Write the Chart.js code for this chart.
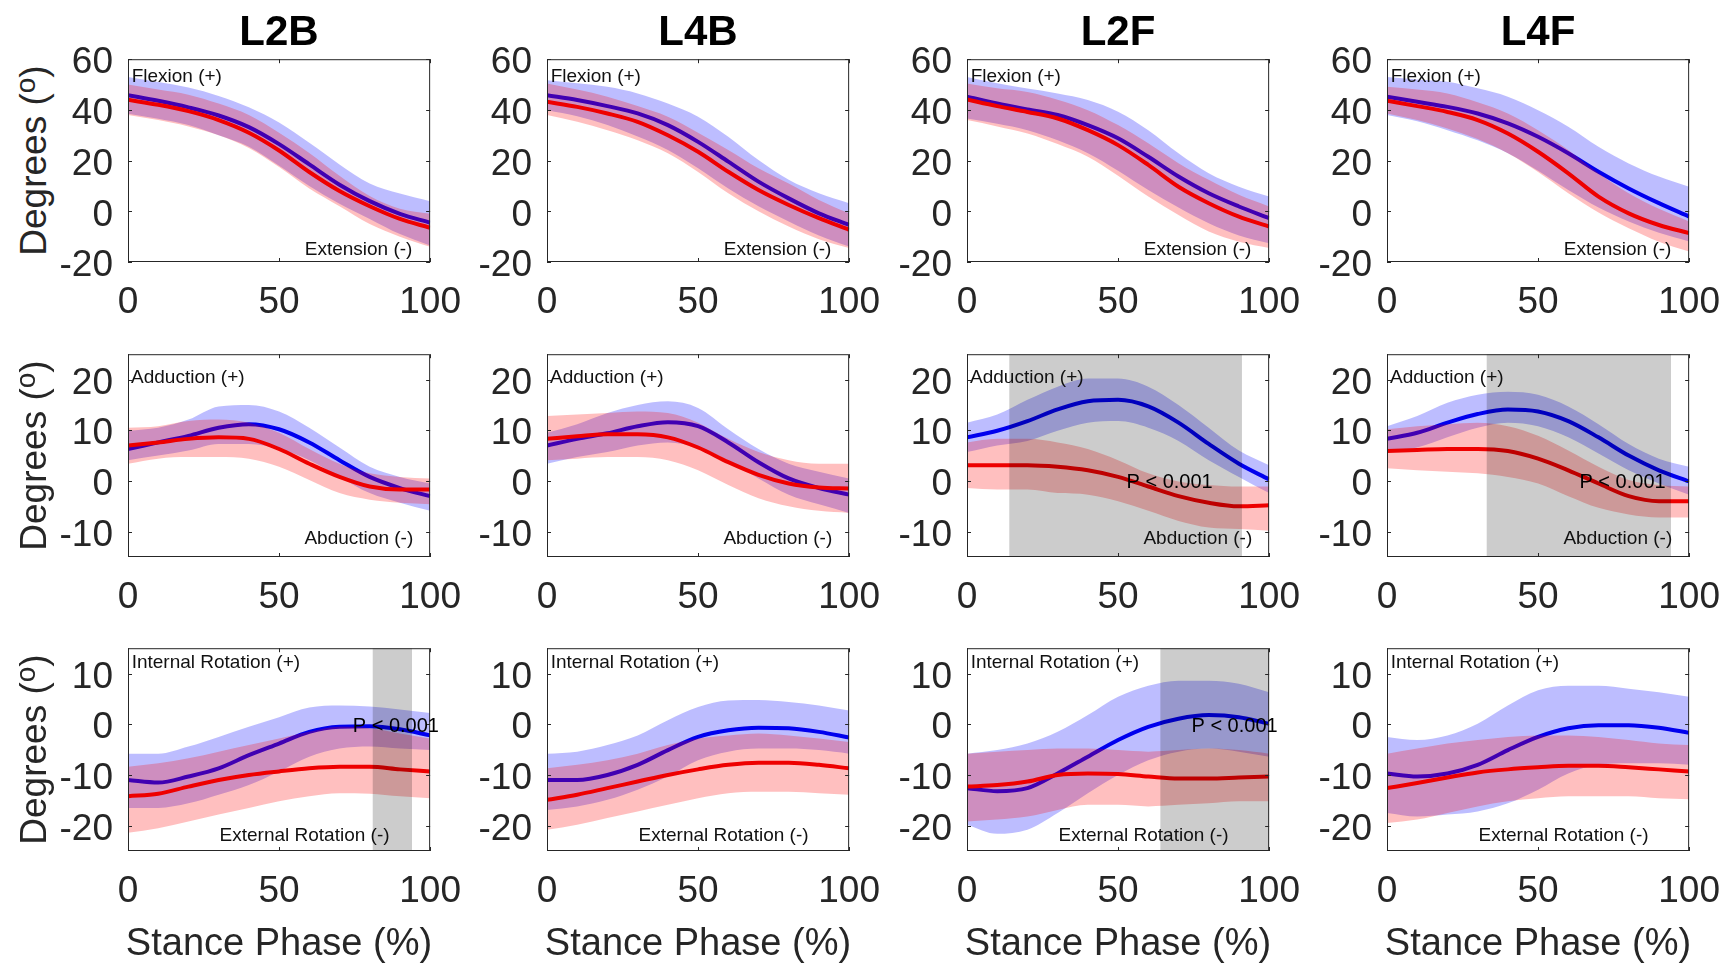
<!DOCTYPE html>
<html><head><meta charset="utf-8">
<script src="https://cdn.jsdelivr.net/npm/chart.js@4.4.1/dist/chart.umd.min.js"></script>
<style>
html,body{margin:0;padding:0;background:#fff;}
#wrap{position:relative;width:1731px;height:964px;overflow:hidden;background:#fff;font-family:"Liberation Sans",Arial,sans-serif;}
#wrap canvas{position:absolute;}
.title{position:absolute;width:200px;height:42px;line-height:42px;font-size:42px;font-weight:bold;color:#000;text-align:center;}
.ylab{position:absolute;width:300px;height:37px;line-height:37px;font-size:37px;color:#262626;text-align:center;transform:rotate(-90deg);white-space:nowrap;}
.ylab sup{font-size:28px;vertical-align:0;position:relative;top:-11px;}
.xlab{position:absolute;width:420px;height:38px;line-height:38px;font-size:38px;color:#262626;text-align:center;white-space:nowrap;}
</style></head>
<body><div id="wrap"></div>
<script>
// ---------- data ----------
const X = [0,10,20,30,40,50,60,70,80,90,100];
const COLUMNS = ['L2B','L4B','L2F','L4F'];
const X_TICKS = [0,50,100];
const Y_TICKS_FLEX = [-20,0,20,40,60];
const Y_TICKS_ABD = [-10,0,10,20];
const Y_TICKS_ROT = [-20,-10,0,10];
const X_LABEL = 'Stance Phase (%)';

// Row 1: flexion / extension   (bm/bu/bl = blue mean/upper/lower, rm/ru/rl = red)
const L2B_flex_bm = [45.8,43.6,41,37.8,33.2,26.5,18.5,10.5,4,-1,-4.5];
const L2B_flex_bu = [53,51,48.8,45.5,41,35,27,18.5,11,7,4];
const L2B_flex_bl = [38.5,36.5,34,30,25.5,18,10,3,-3,-9,-13.5];
const L2B_flex_rm = [44,42,39.5,36,31,24,15.5,8,2,-3,-6.5];
const L2B_flex_ru = [50,48,46,42.5,38,31,23,14,6,1,-1];
const L2B_flex_rl = [38,36,33.5,30,25,17.5,9,2,-5,-10,-14];

const L4B_flex_bm = [45.8,43.9,41.5,38.6,34,27.4,19.6,11.7,5.1,-0.8,-5.4];
const L4B_flex_bu = [51.7,50.5,49.1,46.5,42.5,37.3,29.4,20.2,12.4,7.1,3.2];
const L4B_flex_bl = [39.9,37.5,34,29.5,24.2,17,9,2,-4,-9.5,-13.9];
const L4B_flex_rm = [43.2,41.2,38.6,35.3,30,23.5,15.6,8.4,2.5,-2.7,-7.3];
const L4B_flex_ru = [50.4,48,45.2,41.5,37.3,31,24.2,17,11,4.5,-0.8];
const L4B_flex_rl = [38,35.3,32,28,22.9,15.5,7.1,0,-6,-11,-14.5];

const L2F_flex_bm = [45.2,42.5,40.2,38,34,28.8,21.5,13.7,7.1,1.9,-2.7];
const L2F_flex_bu = [53,50.5,48.4,46.5,43.9,39.3,32,22.9,15,9.7,5.8];
const L2F_flex_bl = [36.6,34.5,32,28,22.9,16,8.4,1.5,-4.7,-9.5,-12.6];
const L2F_flex_rm = [44.1,41.5,39.2,36.6,32,26.1,18.3,9.7,3.2,-2.1,-6];
const L2F_flex_ru = [50.4,48.5,47.1,44,39.9,34,26.8,19,12.4,6.5,1.9];
const L2F_flex_rl = [36,33.5,30.7,26.5,21.5,14,5.8,-1.5,-8,-12,-14.5];

const L4F_flex_bm = [45.2,43.2,41.2,38.6,34.7,29.4,22.9,15.6,9,3.2,-2.1];
const L4F_flex_bu = [53,52,51.1,48.5,45.2,39.9,33.4,25.5,18.9,13.7,9.7];
const L4F_flex_bl = [38,35.5,32,28,22.9,16,8.4,1.5,-4,-8.5,-11.9];
const L4F_flex_rm = [43.6,41.5,39.2,36,30.7,23.5,15,5.8,-0.8,-5.4,-8.6];
const L4F_flex_ru = [49.1,48,46.5,43,38.6,32,24.2,15,7.1,1,-4];
const L4F_flex_rl = [38.6,36,32.7,28.5,22.9,15.5,7.1,-0.5,-6.7,-12,-15.9];

// Row 2: adduction / abduction
const L2B_abd_bm = [6.3,7.6,8.9,10.5,11.2,10.2,7.6,4.1,0.8,-1.4,-3];
const L2B_abd_bu = [9.9,10.5,12.1,14.7,15,13.7,10.5,6.6,2.8,0.8,-0.5];
const L2B_abd_bl = [4.1,5,6,7.3,7.3,6.3,4.1,0.8,-2.4,-4.3,-5.9];
const L2B_abd_rm = [7,7.6,8.3,8.6,8.3,6.3,3.4,0.8,-1.1,-1.7,-1.7];
const L2B_abd_ru = [10.5,10.8,11.8,12.1,11.5,9.5,6.3,3.4,1.5,0.8,0.5];
const L2B_abd_rl = [3.4,4.4,4.7,4.7,4.4,2.8,0.2,-2.4,-3.7,-4.3,-4.6];

const L4B_abd_bm = [7,8.3,9.4,10.8,11.6,10.8,7.6,3.7,0.5,-1.4,-2.7];
const L4B_abd_bu = [9.5,11.2,13.4,15,15.7,14.4,10.2,6.3,3.4,1.8,0.5];
const L4B_abd_bl = [3.4,4.7,5.7,7,7.6,6.6,4.1,0.5,-2.7,-4.6,-6.3];
const L4B_abd_rm = [8.3,8.8,9.2,9.2,8.6,6.6,3.7,1.2,-0.5,-1.3,-1.5];
const L4B_abd_ru = [12.8,13.1,13.4,13.7,13.4,11.5,8.3,5.7,4.1,3.4,3.4];
const L4B_abd_rl = [4.1,4.4,4.7,4.7,4.1,2.1,-0.8,-3.4,-5,-5.9,-6.3];

const L2F_abd_bm = [8.6,9.9,11.8,14.1,15.7,16,14.7,11.5,7.3,3.4,0.3];
const L2F_abd_bu = [11.5,13.1,16,18.6,20.2,20.2,18.6,15,10.5,6,3.1];
const L2F_abd_bl = [5.7,7,7.9,9.9,11.5,11.8,10.5,7.9,4.1,0.8,-2.4];
const L2F_abd_rm = [3.1,3.1,3.1,2.8,2.1,0.8,-1.1,-3,-4.3,-5,-4.8];
const L2F_abd_ru = [7.6,8.3,8.3,7.6,6.3,4.1,1.5,-0.1,-0.8,-1.1,-1.1];
const L2F_abd_rl = [-1.4,-1.7,-1.7,-2.4,-2.7,-4,-5.9,-7.9,-9.2,-9.5,-9.8];
const L2F_abd_sig = [14,91];
const L2F_abd_p = [52.8,-0.3];

const L4F_abd_bm = [8.3,9.5,11.5,13.2,14.1,13.7,11.8,8.6,5,2.1,-0.1];
const L4F_abd_bu = [10.8,12.8,15.4,17,17.6,17,14.7,11.2,7.3,4.4,2.8];
const L4F_abd_bl = [5.7,6.6,8.6,10.5,11.5,10.8,8.6,5.4,2.1,-0.5,-2.7];
const L4F_abd_rm = [5.9,6.1,6.3,6.3,5.9,4.4,2.1,-0.5,-3,-4,-4];
const L4F_abd_ru = [10.2,10.8,11.2,11.5,10.8,8.9,6,2.8,0.2,-0.8,-1.1];
const L4F_abd_rl = [2.5,2.1,1.8,1.5,0.8,-0.5,-3,-5.3,-6.6,-7.2,-7.2];
const L4F_abd_sig = [33,94];
const L4F_abd_p = [63.7,-0.3];

// Row 3: internal / external rotation
const L2B_rot_bm = [-11,-11.5,-10.3,-8.7,-6.1,-3.8,-1.5,-0.5,-0.4,-1,-2.2];
const L2B_rot_bu = [-5.8,-5.8,-4.4,-2.5,-0.5,1.4,3.3,3.7,3.5,2.9,2.2];
const L2B_rot_bl = [-16.5,-16.5,-15.6,-13.9,-12,-9.3,-6.4,-4.8,-4.4,-4.8,-5.1];
const L2B_rot_rm = [-14.2,-13.7,-12.3,-11,-10,-9.3,-8.7,-8.4,-8.4,-8.9,-9.3];
const L2B_rot_ru = [-8.4,-7.7,-6.7,-5.4,-4.1,-2.8,-1.5,-0.5,-0.8,-1.8,-2.8];
const L2B_rot_rl = [-21.4,-20.5,-19.2,-17.8,-16.5,-15.2,-14.2,-13.6,-13.7,-14.2,-14.6];
const L2B_rot_sig = [81,94];
const L2B_rot_p = [74.4,-0.5];

const L4B_rot_bm = [-11,-11,-10,-8,-5.1,-2.5,-1.2,-0.7,-0.8,-1.5,-2.6];
const L4B_rot_bu = [-5.8,-5.4,-4.1,-2.2,0.8,3.4,4.7,4.8,4.4,3.7,2.7];
const L4B_rot_bl = [-16.9,-16.2,-14.9,-12.9,-10.3,-7.1,-5.4,-4.8,-4.8,-5.1,-5.8];
const L4B_rot_rm = [-14.9,-13.9,-12.6,-11.3,-10,-8.9,-8,-7.6,-7.6,-8,-8.7];
const L4B_rot_ru = [-8.7,-8,-7.1,-5.8,-4.1,-2.8,-2.2,-1.8,-2.2,-2.8,-3.5];
const L4B_rot_rl = [-20.8,-19.8,-18.5,-17.2,-15.9,-14.6,-13.6,-13.3,-13.3,-13.6,-13.9];

const L2F_rot_bm = [-12.6,-13.2,-12.6,-9.7,-6.4,-3.1,-0.5,1.1,1.8,1.4,0.1];
const L2F_rot_bu = [-5.8,-5.1,-3.8,-1.5,1.8,5.4,7.6,8.6,8.6,8,6.3];
const L2F_rot_bl = [-19.8,-21.6,-20.8,-17.5,-13.6,-10,-7.1,-5.4,-4.8,-5.4,-6.4];
const L2F_rot_rm = [-12.3,-12,-11.3,-10,-9.7,-9.8,-10.3,-10.7,-10.7,-10.5,-10.3];
const L2F_rot_ru = [-5.8,-5.4,-5.1,-4.8,-4.8,-5.1,-5.4,-5.1,-4.8,-5.1,-5.8];
const L2F_rot_rl = [-19.2,-18.8,-18.2,-16.9,-15.9,-15.9,-16.2,-15.9,-15.6,-15.2,-15.2];
const L2F_rot_sig = [64,100];
const L2F_rot_p = [74.3,-0.5];

const L4F_rot_bm = [-9.7,-10.3,-9.7,-8,-5.1,-2.5,-0.8,-0.2,-0.2,-0.7,-1.7];
const L4F_rot_bu = [-2.5,-3.1,-2.2,0.1,3.7,6.7,7.6,7.6,7,6.3,5.4];
const L4F_rot_bl = [-17.5,-18.2,-17.8,-17.2,-15.6,-12.9,-9.7,-8,-7.7,-7.7,-8];
const L4F_rot_rm = [-12.6,-11.6,-10.5,-9.5,-8.9,-8.5,-8.2,-8.2,-8.5,-8.9,-9.3];
const L4F_rot_ru = [-5.8,-4.8,-3.8,-3.1,-2.5,-2.2,-2.2,-2.5,-3.1,-3.8,-4.1];
const L4F_rot_rl = [-19.5,-18.8,-17.5,-16.2,-15.2,-14.6,-14.2,-14.2,-14.2,-14.6,-14.8];

// ---------- layout ----------
const FONT = '"Liberation Sans", Arial, sans-serif';
const PLOT_LEFT = [128,547,967,1387];
const PLOT_TOP = [59,354,648];
const PW = 302, PH = 203;
const PL = 74, PB = 66;

const ROWS = [
  {min:-20,max:60,ticks:Y_TICKS_FLEX,top:'Flexion (+)',topX:1.2,topY:53,bot:'Extension (-)',botX:58.5,botY:-15.2},
  {min:-15,max:25,ticks:Y_TICKS_ABD,top:'Adduction (+)',topX:1.0,topY:20.4,bot:'Abduction (-)',botX:58.4,botY:-11.35},
  {min:-25,max:15,ticks:Y_TICKS_ROT,top:'Internal Rotation (+)',topX:1.2,topY:12.2,bot:'External Rotation (-)',botX:30.3,botY:-21.9}
];

const PANELS = [
  [
    {bm:L2B_flex_bm,bu:L2B_flex_bu,bl:L2B_flex_bl,rm:L2B_flex_rm,ru:L2B_flex_ru,rl:L2B_flex_rl},
    {bm:L4B_flex_bm,bu:L4B_flex_bu,bl:L4B_flex_bl,rm:L4B_flex_rm,ru:L4B_flex_ru,rl:L4B_flex_rl},
    {bm:L2F_flex_bm,bu:L2F_flex_bu,bl:L2F_flex_bl,rm:L2F_flex_rm,ru:L2F_flex_ru,rl:L2F_flex_rl},
    {bm:L4F_flex_bm,bu:L4F_flex_bu,bl:L4F_flex_bl,rm:L4F_flex_rm,ru:L4F_flex_ru,rl:L4F_flex_rl}
  ],
  [
    {bm:L2B_abd_bm,bu:L2B_abd_bu,bl:L2B_abd_bl,rm:L2B_abd_rm,ru:L2B_abd_ru,rl:L2B_abd_rl},
    {bm:L4B_abd_bm,bu:L4B_abd_bu,bl:L4B_abd_bl,rm:L4B_abd_rm,ru:L4B_abd_ru,rl:L4B_abd_rl},
    {bm:L2F_abd_bm,bu:L2F_abd_bu,bl:L2F_abd_bl,rm:L2F_abd_rm,ru:L2F_abd_ru,rl:L2F_abd_rl,sig:L2F_abd_sig,p:L2F_abd_p},
    {bm:L4F_abd_bm,bu:L4F_abd_bu,bl:L4F_abd_bl,rm:L4F_abd_rm,ru:L4F_abd_ru,rl:L4F_abd_rl,sig:L4F_abd_sig,p:L4F_abd_p}
  ],
  [
    {bm:L2B_rot_bm,bu:L2B_rot_bu,bl:L2B_rot_bl,rm:L2B_rot_rm,ru:L2B_rot_ru,rl:L2B_rot_rl,sig:L2B_rot_sig,p:L2B_rot_p},
    {bm:L4B_rot_bm,bu:L4B_rot_bu,bl:L4B_rot_bl,rm:L4B_rot_rm,ru:L4B_rot_ru,rl:L4B_rot_rl},
    {bm:L2F_rot_bm,bu:L2F_rot_bu,bl:L2F_rot_bl,rm:L2F_rot_rm,ru:L2F_rot_ru,rl:L2F_rot_rl,sig:L2F_rot_sig,p:L2F_rot_p},
    {bm:L4F_rot_bm,bu:L4F_rot_bu,bl:L4F_rot_bl,rm:L4F_rot_rm,ru:L4F_rot_ru,rl:L4F_rot_rl}
  ]
];

const BLUE = 'rgb(0,0,238)', RED = 'rgb(238,0,0)';
const BLUE_BAND = 'rgba(0,0,255,0.26)', RED_BAND = 'rgba(255,0,0,0.25)';

const pts = arr => X.map((x,i)=>({x:x,y:arr[i]}));

const decor = {
  id:'decor',
  afterDatasetsDraw(chart, args, o){
    const ctx = chart.ctx, a = chart.chartArea, xs = chart.scales.x, ys = chart.scales.y;
    ctx.save();
    if (o.sig){
      const x0 = xs.getPixelForValue(o.sig[0]), x1 = xs.getPixelForValue(o.sig[1]);
      ctx.fillStyle = 'rgba(0,0,0,0.2)';
      ctx.fillRect(x0, a.top, x1-x0, a.bottom-a.top);
    }
    ctx.strokeStyle = '#262626'; ctx.lineWidth = 1;
    ctx.strokeRect(a.left+0.5, a.top+0.5, a.right-a.left-1, a.bottom-a.top-1);
    const tl = 4;
    ctx.beginPath();
    xs.ticks.forEach(t=>{ const px = Math.round(xs.getPixelForValue(t.value))+0.5;
      ctx.moveTo(px,a.bottom); ctx.lineTo(px,a.bottom-tl); ctx.moveTo(px,a.top); ctx.lineTo(px,a.top+tl); });
    ys.ticks.forEach(t=>{ const py = Math.round(ys.getPixelForValue(t.value))+0.5;
      ctx.moveTo(a.left,py); ctx.lineTo(a.left+tl,py); ctx.moveTo(a.right,py); ctx.lineTo(a.right-tl,py); });
    ctx.stroke();
    ctx.fillStyle = '#111'; ctx.textBaseline = 'middle'; ctx.textAlign = 'left';
    ctx.font = '19px ' + FONT;
    ctx.fillText(o.top, xs.getPixelForValue(o.topX), ys.getPixelForValue(o.topY));
    ctx.fillText(o.bot, xs.getPixelForValue(o.botX), ys.getPixelForValue(o.botY));
    if (o.p){
      ctx.font = '20px ' + FONT; ctx.fillStyle = '#000';
      ctx.fillText('P < 0.001', xs.getPixelForValue(o.p[0]), ys.getPixelForValue(o.p[1]));
    }
    ctx.restore();
  }
};

function buildConfig(R, P){
  const line = {pointRadius:0,borderWidth:0,borderColor:'transparent',cubicInterpolationMode:'monotone'};
  return {
    type:'line',
    data:{datasets:[
      Object.assign({}, line, {data:pts(P.bu),fill:'+1',backgroundColor:BLUE_BAND,order:6}),
      Object.assign({}, line, {data:pts(P.bl),fill:false,order:6}),
      Object.assign({}, line, {data:pts(P.bm),fill:false,borderColor:BLUE,borderWidth:4,order:5}),
      Object.assign({}, line, {data:pts(P.ru),fill:'+1',backgroundColor:RED_BAND,order:4}),
      Object.assign({}, line, {data:pts(P.rl),fill:false,order:4}),
      Object.assign({}, line, {data:pts(P.rm),fill:false,borderColor:RED,borderWidth:4,order:3})
    ]},
    options:{
      responsive:false, maintainAspectRatio:false, animation:false, devicePixelRatio:1,
      layout:{padding:0},
      plugins:{legend:{display:false},tooltip:{enabled:false},
        decor:{sig:P.sig||null,p:P.p||null,top:R.top,topX:R.topX,topY:R.topY,bot:R.bot,botX:R.botX,botY:R.botY}},
      scales:{
        x:{type:'linear',min:0,max:100,
           afterBuildTicks:s=>{s.ticks = X_TICKS.map(v=>({value:v}));},
           afterFit:s=>{s.height = PB;},
           grid:{display:false,drawTicks:false},border:{display:false},
           ticks:{font:{size:37,family:FONT},color:'#262626',padding:19,autoSkip:false,maxRotation:0}},
        y:{type:'linear',min:R.min,max:R.max,
           afterBuildTicks:s=>{s.ticks = R.ticks.map(v=>({value:v}));},
           afterFit:s=>{s.width = PL;},
           grid:{display:false,drawTicks:false},border:{display:false},
           ticks:{font:{size:37,family:FONT},color:'#262626',padding:15,autoSkip:false,labelOffset:4}}
      }
    },
    plugins:[decor]
  };
}

const wrap = document.getElementById('wrap');

ROWS.forEach((R, r)=>{
  COLUMNS.forEach((name, c)=>{
    const P = PANELS[r][c];
    const cv = document.createElement('canvas');
    wrap.appendChild(cv);
    let W = PW + PL + 40, H = PH + PB + 30;
    const setSize = ()=>{ cv.width = W; cv.height = H; cv.style.width = W+'px'; cv.style.height = H+'px'; };
    setSize();
    let ch = new Chart(cv, buildConfig(R, P));
    let a = ch.chartArea;
    const dw = PW - Math.round(a.right - a.left), dh = PH - Math.round(a.bottom - a.top);
    if (dw !== 0 || dh !== 0){
      ch.destroy();
      W += dw; H += dh; setSize();
      ch = new Chart(cv, buildConfig(R, P));
      a = ch.chartArea;
    }
    cv.style.left = (PLOT_LEFT[c] - Math.round(a.left)) + 'px';
    cv.style.top = (PLOT_TOP[r] - Math.round(a.top)) + 'px';
  });
});

// titles and axis labels (HTML text)
COLUMNS.forEach((name,c)=>{
  const cx = PLOT_LEFT[c] + PW/2;
  const t = document.createElement('div'); t.className='title'; t.textContent = name;
  t.style.left = (cx-100)+'px'; t.style.top = (31-21)+'px'; wrap.appendChild(t);
  const xl = document.createElement('div'); xl.className='xlab'; xl.textContent = X_LABEL;
  xl.style.left = (cx-210)+'px'; xl.style.top = (942-19)+'px'; wrap.appendChild(xl);
});
PLOT_TOP.forEach(top=>{
  const cy = top + PH/2;
  const yl = document.createElement('div'); yl.className='ylab';
  yl.innerHTML = 'Degrees (<sup>o</sup>)';
  yl.style.left = (33-150)+'px'; yl.style.top = (cy-18.5)+'px'; wrap.appendChild(yl);
});
</script>
</body></html>
